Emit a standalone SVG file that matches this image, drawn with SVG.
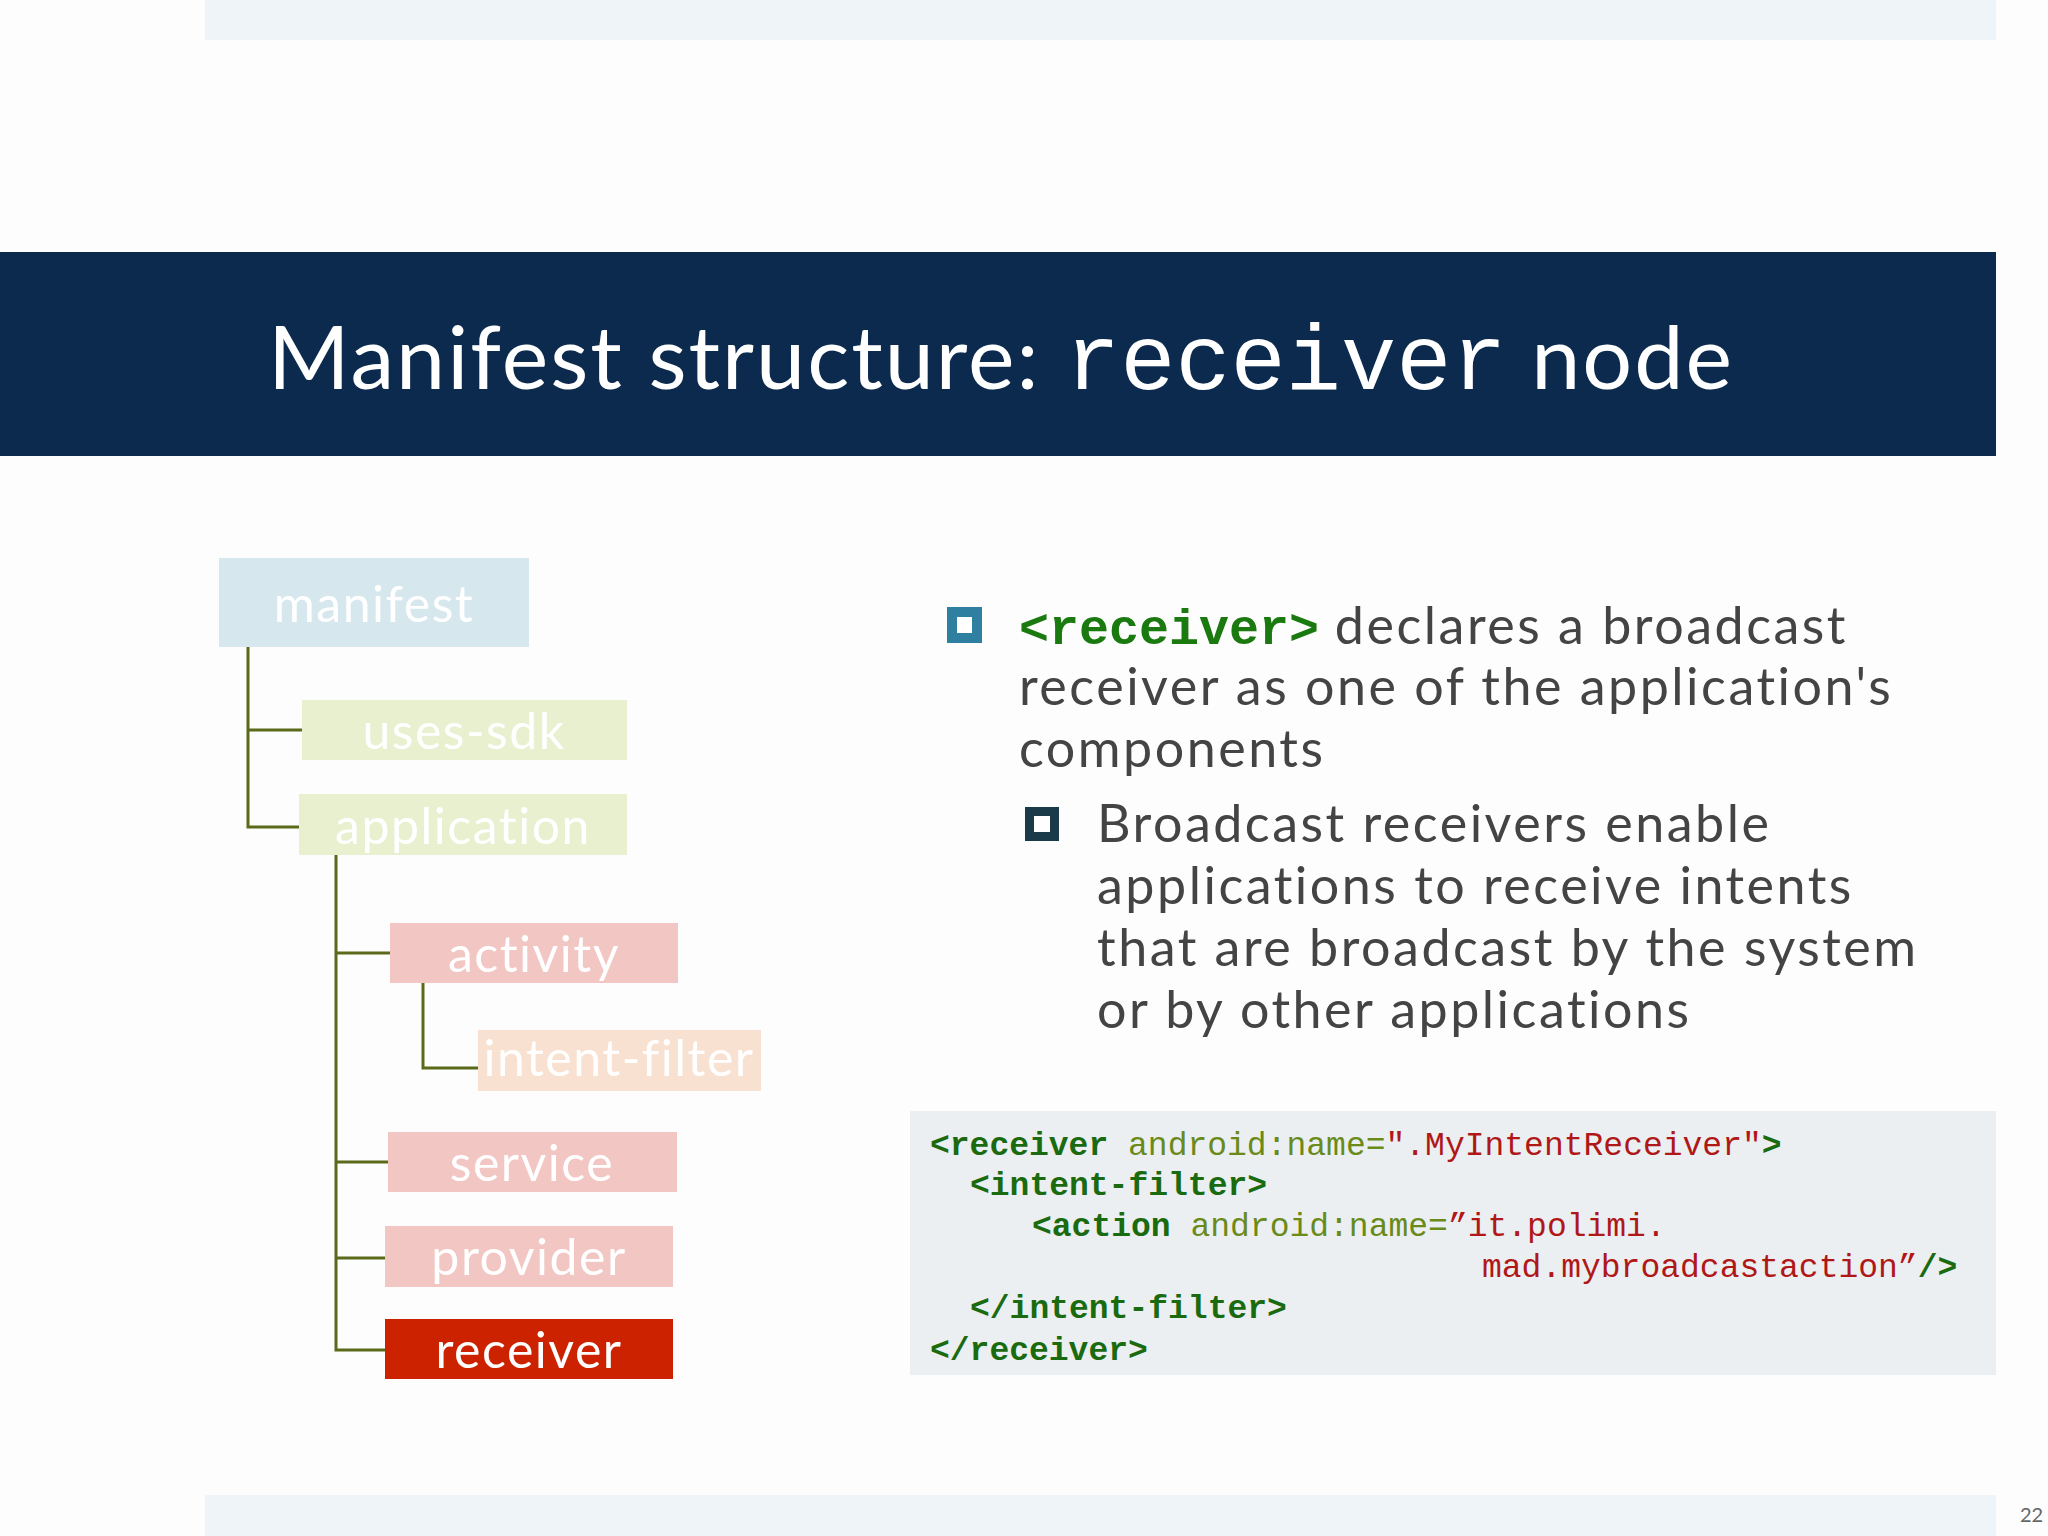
<svg xmlns="http://www.w3.org/2000/svg" width="2048" height="1536" viewBox="0 0 2048 1536">
<style>
.nt{font-family:"Lato","Open Sans",sans-serif;font-size:50px;fill:#ffffff;text-anchor:middle;letter-spacing:1.5px}
.ln{stroke:#5a6a1a;stroke-width:3;fill:none}
.bd{font-family:"Lato","Open Sans",sans-serif;font-size:52px;fill:#444444;letter-spacing:2.5px}
.cd{font-family:"Liberation Mono",monospace;font-size:33px}
.tg{fill:#1a6a10;font-weight:bold}
.at{fill:#6a8a1a}
.vl{fill:#b01818}
</style>
<rect width="2048" height="1536" fill="#fdfdfd"/>
<rect x="205" y="0" width="1791" height="40" fill="#eef4f7"/>
<rect x="0" y="252" width="1996" height="204" fill="#0b2a4d"/>
<text x="268" y="389" font-family="Lato,'Open Sans',sans-serif" font-size="88" fill="#ffffff" letter-spacing="2">Manifest structure: <tspan font-family="'Liberation Mono',monospace" font-size="92" letter-spacing="0">receiver</tspan> node</text>
<rect x="205" y="1495" width="1791" height="41" fill="#eef4f7"/>
<text x="2020" y="1522" font-family="Lato,sans-serif" font-size="20" fill="#666">22</text>
<g id="connectors">
<path class="ln" d="M248 647V827H302M248 730H302"/>
<path class="ln" d="M336 855V1350H388M336 953H390M336 1162H388M336 1258H386"/>
<path class="ln" d="M423 983V1068H478"/>
</g>
<g id="manifest"><rect x="219" y="558" width="310" height="89" fill="#d6e8ee"/><text class="nt" x="374" y="622" font-size="56">manifest</text></g>
<g id="uses-sdk"><rect x="302" y="700" width="325" height="60" fill="#e8f0cf"/><text class="nt" x="464" y="749">uses-sdk</text></g>
<g id="application"><rect x="299" y="794" width="328" height="61" fill="#e8f0cf"/><text class="nt" x="463" y="844">application</text></g>
<g id="activity"><rect x="390" y="923" width="288" height="60" fill="#f2c6c2"/><text class="nt" x="534" y="972">activity</text></g>
<g id="intent-filter"><rect x="478" y="1030" width="283" height="61" fill="#f8e1d0"/><text class="nt" x="619" y="1076" font-size="40" letter-spacing="0.5">intent-filter</text></g>
<g id="service"><rect x="388" y="1132" width="289" height="60" fill="#f2c6c2"/><text class="nt" x="532" y="1181">service</text></g>
<g id="provider"><rect x="385" y="1226" width="288" height="61" fill="#f2c6c2"/><text class="nt" x="529" y="1275">provider</text></g>
<g id="receiver"><rect x="385" y="1319" width="288" height="60" fill="#cc2200"/><text class="nt" x="529" y="1368">receiver</text></g>
<rect x="947" y="607" width="35" height="36" fill="#2e7fa0"/><rect x="957" y="617" width="15" height="16" fill="#fff"/>
<text class="bd" x="1019" y="644"><tspan font-family="'Liberation Mono',monospace" font-weight="bold" fill="#1a7a10" font-size="50" letter-spacing="0">&lt;receiver&gt;</tspan> declares a broadcast</text>
<text class="bd" x="1019" y="705">receiver as one of the application's</text>
<text class="bd" x="1019" y="767">components</text>
<rect x="1025" y="807" width="34" height="34" fill="#1a3a4a"/><rect x="1034" y="816" width="16" height="16" fill="#fff"/>
<text class="bd" x="1097" y="842">Broadcast receivers enable</text>
<text class="bd" x="1097" y="904">applications to receive intents</text>
<text class="bd" x="1097" y="966">that are broadcast by the system</text>
<text class="bd" x="1097" y="1028">or by other applications</text>
<rect x="910" y="1111" width="1086" height="264" fill="#eceff1"/>
<text class="cd" x="930" y="1155"><tspan class="tg">&lt;receiver</tspan> <tspan class="at">android:name=</tspan><tspan class="vl">".MyIntentReceiver"</tspan><tspan class="tg">&gt;</tspan></text>
<text class="cd tg" x="970" y="1195">&lt;intent-filter&gt;</text>
<text class="cd" x="1032" y="1236"><tspan class="tg">&lt;action</tspan> <tspan class="at">android:name=</tspan><tspan class="vl">”it.polimi.</tspan></text>
<text class="cd" x="1482" y="1277"><tspan class="vl">mad.mybroadcastaction”</tspan><tspan class="tg">/&gt;</tspan></text>
<text class="cd tg" x="970" y="1318">&lt;/intent-filter&gt;</text>
<text class="cd tg" x="930" y="1360">&lt;/receiver&gt;</text>
</svg>
